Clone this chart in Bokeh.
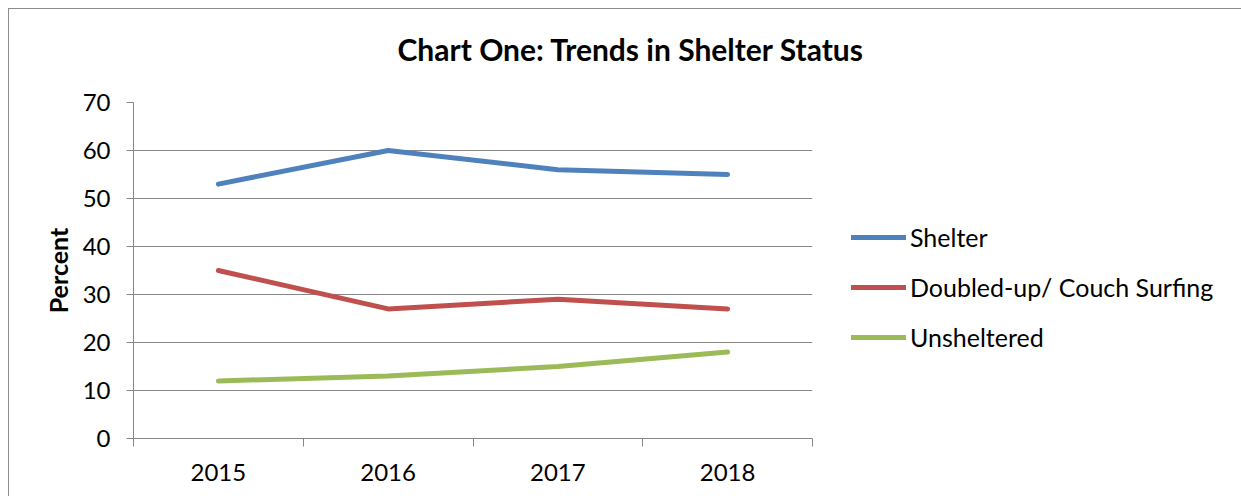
from bokeh.plotting import figure
from bokeh.models import Legend, LegendItem, FixedTicker, Title
from bokeh.embed import file_html
from bokeh.resources import INLINE

years = ["2015", "2016", "2017", "2018"]
shelter = [53, 60, 56, 55]
doubled = [35, 27, 29, 27]
unsheltered = [12, 13, 15, 18]
series_names = ["Shelter", "Doubled-up/ Couch Surfing", "Unsheltered"]
colors = ["#4F81BD", "#C0504D", "#9BBB59"]
y_ticks = [0, 10, 20, 30, 40, 50, 60, 70]

FONT = "Lato"
GRAY = "#878787"

xs = [i + 0.5 for i in range(len(years))]

p = figure(frame_width=679, frame_height=336, output_backend="svg", toolbar_location=None,
           x_range=(0, len(years)), y_range=(0, 70),
           min_border_left=124, min_border_right=0, min_border_top=93, min_border_bottom=58,
           styles={"border-left": "1px solid #8c8c8c", "border-top": "1px solid #8c8c8c",
                   "margin-left": "8px", "margin-top": "8px"})
p.outline_line_color = None
p.background_fill_color = "white"
p.border_fill_color = "white"

renderers = []
for vals, c in zip([shelter, doubled, unsheltered], colors):
    r = p.line(xs, vals, line_color=c, line_width=5, line_cap="round", line_join="round")
    renderers.append(r)

p.xaxis.ticker = FixedTicker(ticks=xs, minor_ticks=list(range(len(years) + 1)))
p.xaxis.major_label_overrides = {x: y for x, y in zip(xs, years)}
p.xaxis.major_tick_line_color = None
p.xaxis.minor_tick_line_color = GRAY
p.xaxis.minor_tick_out = 8
p.xaxis.minor_tick_in = 0
p.xaxis.axis_line_color = GRAY
p.xaxis.major_label_text_font = FONT
p.xaxis.major_label_text_font_size = "24px"
p.xaxis.major_label_text_color = "black"
p.xaxis.major_label_standoff = 17

p.yaxis.ticker = FixedTicker(ticks=y_ticks)
p.yaxis.major_tick_line_color = GRAY
p.yaxis.major_tick_out = 7
p.yaxis.major_tick_in = 0
p.yaxis.minor_tick_line_color = None
p.yaxis.axis_line_color = GRAY
p.yaxis.major_label_text_font = FONT
p.yaxis.major_label_text_font_size = "24px"
p.yaxis.major_label_text_color = "black"
p.yaxis.major_label_standoff = 16
p.yaxis.axis_label = "Percent"
p.yaxis.axis_label_text_font = FONT
p.yaxis.axis_label_text_font_style = "bold"
p.yaxis.axis_label_text_font_size = "25px"
p.yaxis.axis_label_text_color = "black"
p.yaxis.axis_label_standoff = 7

p.xgrid.grid_line_color = None
p.ygrid.grid_line_color = GRAY
p.ygrid.grid_line_width = 1

legend = Legend(items=[LegendItem(label=n, renderers=[r]) for n, r in zip(series_names, renderers)],
                location=(39, 86), orientation="vertical",
                glyph_width=55, glyph_height=20, label_height=20, spacing=20,
                label_standoff=4, padding=0, margin=0,
                border_line_color=None, background_fill_alpha=0,
                label_text_font=FONT, label_text_font_size="25px", label_text_color="black")
p.add_layout(legend, "right")

# invisible spacer between the frame and the title
spacer = Title(text=" ", text_font=FONT, text_font_size="10px", standoff=22)
p.add_layout(spacer, "above")

title = Title(text="Chart One: Trends in Shelter Status", align="left", offset=264,
              text_font=FONT, text_font_style="bold", text_font_size="30px",
              text_color="black", standoff=0)
p.add_layout(title, "above")

open("out.html", "w").write(file_html(p, INLINE))
